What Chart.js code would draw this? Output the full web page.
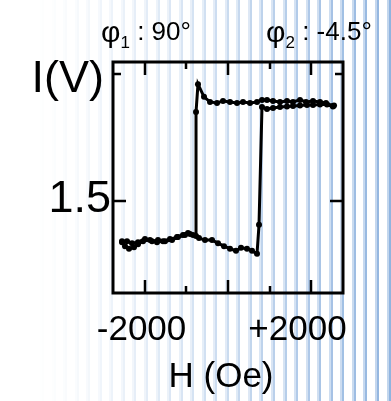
<!DOCTYPE html>
<html>
<head>
<meta charset="utf-8">
<script src="https://cdn.jsdelivr.net/npm/chart.js@4/dist/chart.umd.min.js"></script>
<style>
  html, body { margin: 0; padding: 0; background: #fff; }
  canvas { display: block; }
</style>
</head>
<body>
<canvas id="loop" width="391" height="401"></canvas>
<script>
// Field sweep from +H to -H (Oe) and the measured signal (V)
const hDown = [2540, 2515, 2347, 2204, 2036, 1868, 1725, 1557, 1413, 1246, 1078, 934, 814, 695, 527, 359, 216, 48, -120, -263, -431, -575, -719, -766, -766, -910, -1030, -1198, -1341, -1509, -1677, -1820, -1988, -2156, -2299, -2419, -2539];
const iDown = [1.688, 1.687, 1.693, 1.695, 1.697, 1.695, 1.699, 1.695, 1.697, 1.695, 1.697, 1.699, 1.699, 1.695, 1.693, 1.695, 1.693, 1.695, 1.697, 1.693, 1.695, 1.705, 1.730, 1.675, 1.431, 1.435, 1.433, 1.429, 1.423, 1.421, 1.423, 1.421, 1.425, 1.419, 1.417, 1.421, 1.421];

// Field sweep from -H back to +H
const hUp = [-2539, -2467, -2371, -2252, -2156, -2036, -1868, -1701, -1557, -1389, -1222, -1078, -958, -838, -695, -551, -383, -240, -96, 48, 192, 311, 455, 575, 695, 743, 814, 934, 1078, 1246, 1413, 1557, 1725, 1892, 2036, 2204, 2371, 2515];
const iUp = [1.419, 1.411, 1.406, 1.409, 1.415, 1.421, 1.423, 1.419, 1.421, 1.425, 1.429, 1.433, 1.437, 1.433, 1.427, 1.423, 1.423, 1.417, 1.411, 1.406, 1.402, 1.408, 1.406, 1.402, 1.396, 1.453, 1.685, 1.681, 1.683, 1.685, 1.686, 1.687, 1.688, 1.689, 1.689, 1.690, 1.690, 1.686];

// Axis ticks: labelled and unlabelled positions
const xMajorTicks = [-2000, 0, 2000];
const xMinorTicks = [-1000, 1000];
const yMajorTicks = [1.5];
const yMinorTicks = [1.75];
const xTickLabels = ['-2000', '+2000'];
const yTickLabels = ['1.5'];
const angleLabels = [['φ', '1', ' : 90°'], ['φ', '2', ' : -4.5°']];
const xTitle = 'H (Oe)';
const yTitle = 'I(V)';

const toPoints = (xs, ys) => xs.map((x, i) => ({ x: x, y: ys[i] }));

const FONT = '"Liberation Sans", Arial, sans-serif';

// Vertical blue stripes behind the whole figure, deepening to the right
const stripes = {
  id: 'stripes',
  beforeDraw(chart) {
    const ctx = chart.ctx, W = chart.width, H = chart.height;
    ctx.save();
    ctx.fillStyle = '#ffffff';
    ctx.fillRect(0, 0, W, H);
    for (let x = 40; x < W; x += 11.55) {
      const t = Math.max(0, Math.min(1, (x - 30) / 360));
      const a = Math.pow(t, 1.2) * 0.72;
      ctx.fillStyle = `rgba(100,150,210,${(a * 0.55).toFixed(3)})`;
      ctx.fillRect(Math.round(x), 0, 2, H);
      ctx.fillStyle = `rgba(100,150,210,${a.toFixed(3)})`;
      ctx.fillRect(Math.round(x) + 2, 0, 2, H);
    }
    ctx.restore();
  }
};

// Boxed frame with inward ticks on all four sides, plus the text
const frame = {
  id: 'frame',
  afterDraw(chart) {
    const ctx = chart.ctx;
    const a = chart.chartArea;
    const xs = chart.scales.x, ys = chart.scales.y;
    ctx.save();
    ctx.strokeStyle = '#000';
    ctx.lineWidth = 3;
    ctx.lineCap = 'butt';
    ctx.strokeRect(a.left, a.top, a.right - a.left, a.bottom - a.top);

    ctx.lineWidth = 2.5;
    const xTick = (v, len) => {
      const p = Math.round(xs.getPixelForValue(v));
      ctx.beginPath();
      ctx.moveTo(p, a.bottom); ctx.lineTo(p, a.bottom - len);
      ctx.moveTo(p, a.top); ctx.lineTo(p, a.top + len);
      ctx.stroke();
    };
    const yTick = (v, len) => {
      const p = Math.round(ys.getPixelForValue(v));
      ctx.beginPath();
      ctx.moveTo(a.left, p); ctx.lineTo(a.left + len, p);
      ctx.moveTo(a.right, p); ctx.lineTo(a.right - len, p);
      ctx.stroke();
    };
    xMajorTicks.forEach(v => xTick(v, 13));
    xMinorTicks.forEach(v => xTick(v, 7));
    yMajorTicks.forEach(v => yTick(v, 13));
    yMinorTicks.forEach(v => yTick(v, 8));

    ctx.fillStyle = '#000';
    ctx.textBaseline = 'alphabetic';

    // x tick labels
    ctx.font = `35px ${FONT}`;
    ctx.textAlign = 'center';
    ctx.fillText(xTickLabels[0], xs.getPixelForValue(-2000) - 3, 340);
    ctx.fillText(xTickLabels[1], xs.getPixelForValue(2000) - 14, 340);
    // x title
    ctx.fillText(xTitle, (a.left + a.right) / 2 - 7, 387);

    // y tick label and title
    ctx.font = `45px ${FONT}`;
    ctx.textAlign = 'right';
    ctx.fillText(yTickLabels[0], a.left - 2, ys.getPixelForValue(1.5) + 11);
    ctx.fillText(yTitle, a.left - 9, 92);

    // angle annotations with subscripts
    const drawAngle = (parts, x0) => {
      ctx.textAlign = 'left';
      let x = x0;
      ctx.font = `30px ${FONT}`;
      ctx.fillText(parts[0], x, 42);
      x += ctx.measureText(parts[0]).width;
      ctx.font = `17px ${FONT}`;
      ctx.fillText(parts[1], x, 48);
      x += ctx.measureText(parts[1]).width;
      ctx.font = `26px ${FONT}`;
      ctx.fillText(parts[2], x, 40);
    };
    drawAngle(angleLabels[0], 101);
    drawAngle(angleLabels[1], 266);
    ctx.restore();
  }
};

const lineStyle = {
  showLine: true,
  borderColor: '#000',
  backgroundColor: '#000',
  borderWidth: 3,
  pointRadius: 3,
  pointHoverRadius: 3,
  pointBorderWidth: 0,
  tension: 0
};

new Chart(document.getElementById('loop'), {
  type: 'scatter',
  data: {
    datasets: [
      Object.assign({ label: 'down', data: toPoints(hDown, iDown) }, lineStyle),
      Object.assign({ label: 'up', data: toPoints(hUp, iUp) }, lineStyle)
    ]
  },
  options: {
    responsive: false,
    animation: false,
    devicePixelRatio: 1,
    layout: { padding: { left: 113, right: 48, top: 62, bottom: 108 } },
    plugins: { legend: { display: false }, tooltip: { enabled: false } },
    scales: {
      x: { type: 'linear', min: -2755, max: 2755, display: false },
      y: { type: 'linear', min: 1.3189, max: 1.7736, display: false }
    }
  },
  plugins: [stripes, frame]
});
</script>
</body>
</html>
